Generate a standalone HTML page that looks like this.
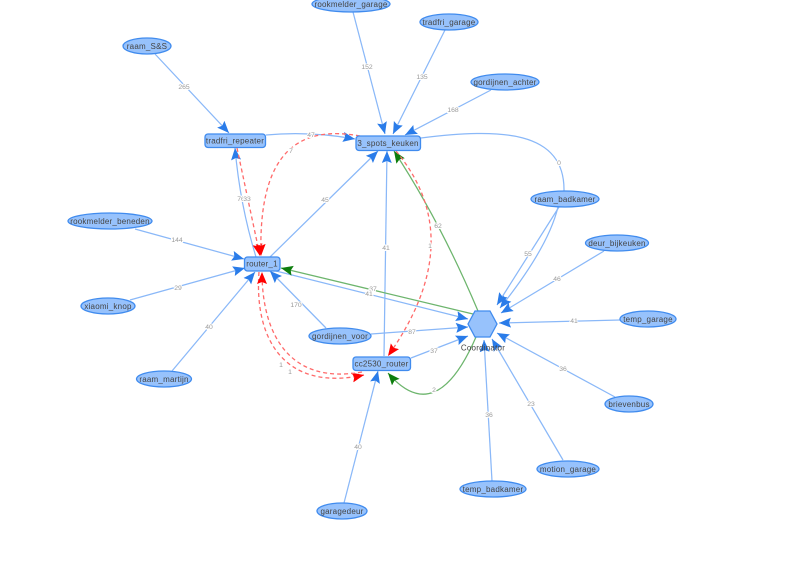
<!DOCTYPE html>
<html>
<head>
<meta charset="utf-8">
<style>
html,body{margin:0;padding:0;background:#fff;width:800px;height:574px;overflow:hidden}
svg{display:block}
.e{fill:none;stroke-width:1.25}
.b{stroke:#8ab8f8}
.g{stroke:#6db56d}
.r{stroke:#ff6a6a;stroke-dasharray:4 3;stroke-width:1.3}
.n{fill:#97c2fc;stroke:#3f8bee;stroke-width:1.3}
.t{font:8px "Liberation Sans",sans-serif;fill:#444;text-anchor:middle;letter-spacing:.22px}
.l{font:6.8px "Liberation Sans",sans-serif;fill:#9a9a9a;text-anchor:middle;paint-order:stroke;stroke:#fff;stroke-width:2px}
</style>
</head>
<body>
<svg width="800" height="574" viewBox="0 0 800 574" xmlns="http://www.w3.org/2000/svg">
<defs>
<filter id="s" x="-2%" y="-2%" width="104%" height="104%"><feGaussianBlur stdDeviation="0.35"/></filter>
<marker id="ab" markerUnits="userSpaceOnUse" markerWidth="14" markerHeight="12" refX="12" refY="5" orient="auto"><path d="M0,0 L12,5 L0,10 L2,5 z" fill="#2b7ce9"/></marker>
<marker id="ag" markerUnits="userSpaceOnUse" markerWidth="14" markerHeight="12" refX="12" refY="5" orient="auto"><path d="M0,0 L12,5 L0,10 L2,5 z" fill="#0a7d0a"/></marker>
<marker id="ar" markerUnits="userSpaceOnUse" markerWidth="14" markerHeight="12" refX="12" refY="5" orient="auto"><path d="M0,0 L12,5 L0,10 L2,5 z" fill="#ff0000"/></marker>
</defs>
<rect width="800" height="574" fill="#fff"/>
<g filter="url(#s)">
<!-- blue edges -->
<g class="e b">
<path d="M353,12 L385,134" marker-end="url(#ab)"/>
<path d="M445,30 L393,134" marker-end="url(#ab)"/>
<path d="M491,90 L405,135" marker-end="url(#ab)"/>
<path d="M155,54 L229,133" marker-end="url(#ab)"/>
<path d="M266,135 Q310,131 355,139" marker-end="url(#ab)"/>
<path d="M421,138 C500,128 565,130 564,191"/>
<path d="M559,207 L497,305" marker-end="url(#ab)"/>
<path d="M558,207 Q548,248 500,308" marker-end="url(#ab)"/>
<path d="M604,251 L501,313" marker-end="url(#ab)"/>
<path d="M620,320 L499,323" marker-end="url(#ab)"/>
<path d="M615,397 L497,333" marker-end="url(#ab)"/>
<path d="M563,460 L492,339" marker-end="url(#ab)"/>
<path d="M492,481 L484,340" marker-end="url(#ab)"/>
<path d="M276,271 L468,319" marker-end="url(#ab)"/>
<path d="M371,334 L468,327" marker-end="url(#ab)"/>
<path d="M411,358 L468,336" marker-end="url(#ab)"/>
<path d="M384,356 L387,151" marker-end="url(#ab)"/>
<path d="M344,503 L378,371" marker-end="url(#ab)"/>
<path d="M270,257 L378,151" marker-end="url(#ab)"/>
<path d="M256,257 Q240,205 235,148" marker-end="url(#ab)"/>
<path d="M326,328 L270,271" marker-end="url(#ab)"/>
<path d="M135,229 L244,259" marker-end="url(#ab)"/>
<path d="M130,300 L245,268" marker-end="url(#ab)"/>
<path d="M172,371 L255,272" marker-end="url(#ab)"/>
</g>
<!-- green edges -->
<g class="e g">
<path d="M473,314 L281,268" marker-end="url(#ag)"/>
<path d="M476,337 Q436,429 388,373" marker-end="url(#ag)"/>
<path d="M478,311 Q440,221 394,151" marker-end="url(#ag)"/>
</g>
<!-- red edges -->
<g class="e r">
<path d="M396,151 Q470,240 388,356" marker-end="url(#ar)"/>
<path d="M237,148 L260,256" marker-end="url(#ar)"/>
<path d="M360,136 C300,125 258,150 261,256" marker-end="url(#ar)"/>
<path d="M259,272 C254,340 285,392 364,375" marker-end="url(#ar)"/>
<path d="M362,372 C290,385 262,335 262,272" marker-end="url(#ar)"/>
</g>
<!-- edge labels -->
<g>
<text class="l" x="367" y="69">152</text>
<text class="l" x="422" y="79">135</text>
<text class="l" x="453" y="112">168</text>
<text class="l" x="184" y="89">265</text>
<text class="l" x="311" y="137">47</text>
<text class="l" x="559" y="165">0</text>
<text class="l" x="528" y="256">55</text>
<text class="l" x="557" y="281">46</text>
<text class="l" x="574" y="323">41</text>
<text class="l" x="563" y="371">36</text>
<text class="l" x="531" y="406">23</text>
<text class="l" x="489" y="417">36</text>
<text class="l" x="373" y="291">37</text>
<text class="l" x="369" y="296">41</text>
<text class="l" x="412" y="334">87</text>
<text class="l" x="434" y="353">37</text>
<text class="l" x="434" y="392">2</text>
<text class="l" x="438" y="228">62</text>
<text class="l" x="430" y="248">1</text>
<text class="l" x="386" y="250">41</text>
<text class="l" x="358" y="449">40</text>
<text class="l" x="325" y="202">45</text>
<text class="l" x="241" y="201">76</text>
<text class="l" x="247" y="201">33</text>
<text class="l" x="291" y="153">7</text>
<text class="l" x="296" y="307">170</text>
<text class="l" x="177" y="242">144</text>
<text class="l" x="178" y="290">29</text>
<text class="l" x="209" y="329">40</text>
<text class="l" x="281" y="367">1</text>
<text class="l" x="290" y="374">1</text>
</g>
<!-- ellipse nodes -->
<g>
<ellipse class="n" cx="351" cy="4" rx="39" ry="8"/><text class="t" x="351" y="7">rookmelder_garage</text>
<ellipse class="n" cx="449" cy="22" rx="29" ry="8"/><text class="t" x="449" y="25">tradfri_garage</text>
<ellipse class="n" cx="505" cy="82" rx="34" ry="8"/><text class="t" x="505" y="85">gordijnen_achter</text>
<ellipse class="n" cx="147" cy="46" rx="24" ry="8"/><text class="t" x="147" y="49">raam_S&amp;S</text>
<ellipse class="n" cx="565" cy="199" rx="34" ry="8"/><text class="t" x="565" y="202">raam_badkamer</text>
<ellipse class="n" cx="617" cy="243" rx="31.5" ry="8"/><text class="t" x="617" y="246">deur_bijkeuken</text>
<ellipse class="n" cx="648" cy="319" rx="28" ry="8"/><text class="t" x="648" y="322">temp_garage</text>
<ellipse class="n" cx="629" cy="404" rx="24" ry="8"/><text class="t" x="629" y="407">brievenbus</text>
<ellipse class="n" cx="568" cy="469" rx="31" ry="8"/><text class="t" x="568" y="472">motion_garage</text>
<ellipse class="n" cx="493" cy="489" rx="33" ry="8"/><text class="t" x="493" y="492">temp_badkamer</text>
<ellipse class="n" cx="342" cy="511" rx="25" ry="8"/><text class="t" x="342" y="514">garagedeur</text>
<ellipse class="n" cx="164" cy="379" rx="27.5" ry="8"/><text class="t" x="164" y="382">raam_martijn</text>
<ellipse class="n" cx="108" cy="306" rx="27" ry="8"/><text class="t" x="108" y="309">xiaomi_knop</text>
<ellipse class="n" cx="110" cy="221" rx="42" ry="8"/><text class="t" x="110" y="224">rookmelder_beneden</text>
<ellipse class="n" cx="340" cy="336" rx="31" ry="8"/><text class="t" x="340" y="339">gordijnen_voor</text>
</g>
<!-- box nodes -->
<g>
<rect class="n" x="205" y="134" width="60.5" height="13.5" rx="3"/><text class="t" x="235" y="143.5">tradfri_repeater</text>
<rect class="n" x="356" y="136" width="64.5" height="14.5" rx="3"/><text class="t" x="388" y="146">3_spots_keuken</text>
<rect class="n" x="244.500" y="257" width="35.500" height="14" rx="3"/><text class="t" x="262" y="266.500">router_1</text>
<rect class="n" x="353" y="357" width="57.500" height="13.500" rx="3"/><text class="t" x="381.500" y="366.500">cc2530_router</text>
</g>
<!-- coordinator -->
<polygon class="n" points="468,324 475,311 490,311 497,324 490,337 475,337"/>
<text class="t" x="483" y="350.500">Coordinator</text>
</g>
</svg>
</body>
</html>
